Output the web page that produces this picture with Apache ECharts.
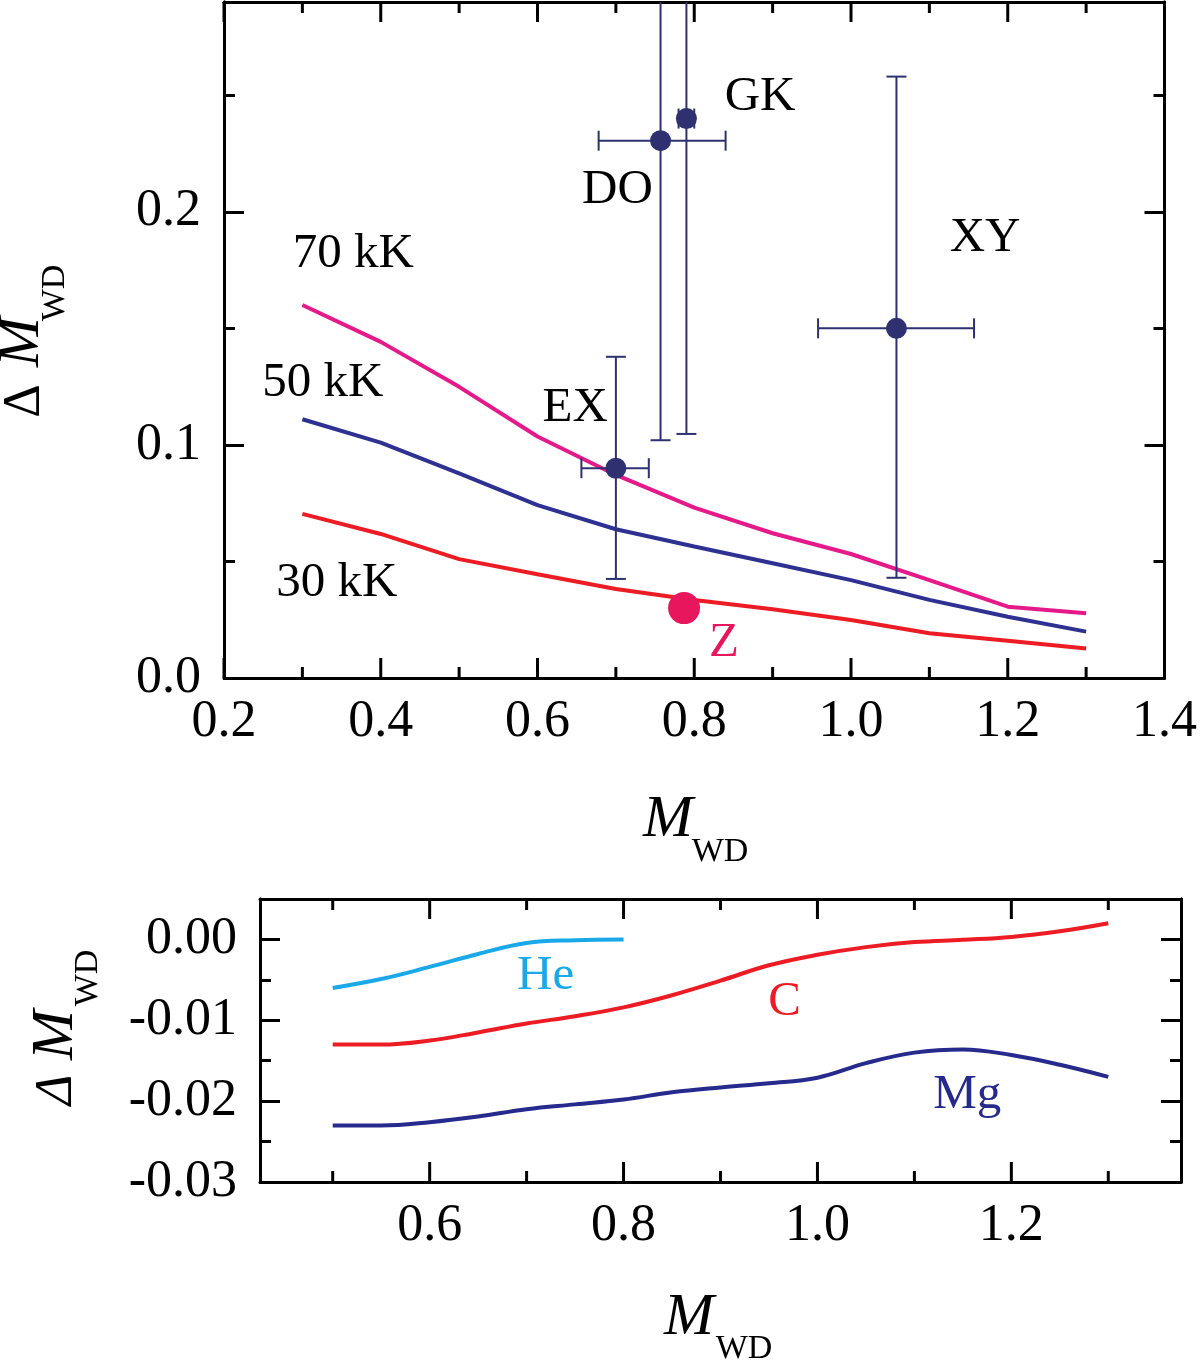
<!DOCTYPE html>
<html>
<head>
<meta charset="utf-8">
<script src="https://cdn.jsdelivr.net/npm/echarts@6/dist/echarts.min.js"></script>
<style>
  html, body { margin: 0; padding: 0; background: #fff; }
  #container { width: 1200px; height: 1362px; }
</style>
</head>
<body>
<div id="container"></div>
<script>
// ---- top panel data ----
var massGrid = [0.3, 0.4, 0.5, 0.6, 0.7, 0.8, 0.9, 1.0, 1.1, 1.2, 1.3];
var dm30 = [0.0704, 0.0618, 0.051, 0.0445, 0.0382, 0.0335, 0.0295, 0.0249, 0.0192, 0.016, 0.0127];
var dm50 = [0.111, 0.101, 0.0878, 0.0742, 0.0638, 0.0564, 0.0492, 0.042, 0.0335, 0.0263, 0.0199];
var dm70 = [0.160, 0.1442, 0.1249, 0.1036, 0.0871, 0.0731, 0.0621, 0.0532, 0.042, 0.0306, 0.0278];

// observed objects with error bars
var objNames = ['EX', 'DO', 'GK', 'XY'];
var objM     = [0.70, 0.757, 0.79, 1.058];
var objDM    = [0.090, 0.2305, 0.240, 0.150];
var objMLo   = [0.656, 0.678, 0.78, 0.958];
var objMHi   = [0.742, 0.84, 0.80, 1.157];
var objDMLo  = [0.0425, 0.102, 0.1047, 0.043];
var objDMHi  = [0.1378, 0.36, 0.38, 0.258];
var zObj = [0.787, 0.030];

// ---- bottom panel data ----
var massB = [0.5, 0.55, 0.6, 0.65, 0.7, 0.75, 0.8, 0.85, 0.9, 0.95, 1.0, 1.05, 1.1, 1.15, 1.2, 1.25, 1.3];
var heDM = [-0.006, -0.0049, -0.0034, -0.0018, -0.00045, -0.0001, 0];
var cDM  = [-0.013, -0.013, -0.0125, -0.0115, -0.0104, -0.0095, -0.0084, -0.0069, -0.0051, -0.0032, -0.0019, -0.00095, -0.00033, -0.00005, 0.0003, 0.001, 0.002];
var mgDM = [-0.023, -0.023, -0.0226, -0.0219, -0.021, -0.0204, -0.0198, -0.0189, -0.0183, -0.0178, -0.0171, -0.0153, -0.014, -0.0136, -0.0143, -0.0155, -0.017];

// tick values
var topXMajor = [0.2, 0.4, 0.6, 0.8, 1.0, 1.2, 1.4];
var topXMinor = [0.3, 0.5, 0.7, 0.9, 1.1, 1.3];
var topYMajor = [0, 0.1, 0.2];
var topYMinor = [0.05, 0.15, 0.25];
var botXMajor = [0.6, 0.8, 1.0, 1.2];
var botXMinor = [0.5, 0.7, 0.9, 1.1, 1.3];
var botYMajor = [-0.03, -0.02, -0.01, 0];
var botYMinor = [-0.025, -0.015, -0.005];

// axis ranges
var topX = [0.2, 1.4], topY = [0, 0.29];
var botX = [0.425, 1.375], botY = [-0.03, 0.005];

// text notes (data coordinates)
var topNotes = [
  ['70 kK', 0.365, 0.1818, '#000'],
  ['50 kK', 0.326, 0.1266, '#000'],
  ['30 kK', 0.344, 0.0408, '#000'],
  ['EX', 0.648, 0.1159, '#000'],
  ['DO', 0.702, 0.2094, '#000'],
  ['GK', 0.884, 0.2494, '#000'],
  ['XY', 1.171, 0.1886, '#000'],
  ['Z', 0.838, 0.0150, '#e8175d']
];
var botNotes = [
  ['He', 0.7196, -0.0046, '#1aa9e8'],
  ['C', 0.966, -0.0077, '#ed1c24'],
  ['Mg', 1.1546, -0.0193, '#262a8c']
];

var FONT = '"Liberation Serif", "Times New Roman", serif';
var NAVY = '#2e3070';

function pairs(xs, ys) {
  var out = [];
  for (var i = 0; i < ys.length; i++) out.push([xs[i], ys[i]]);
  return out;
}

var LINE = { show: true, onZero: false, lineStyle: { color: '#000', width: 3 } };

function xAxisDef(grid, pos, range, majors, fmt) {
  return {
    type: 'value', gridIndex: grid, position: pos, min: range[0], max: range[1],
    axisLine: LINE, splitLine: { show: false }, axisTick: { show: false },
    axisLabel: fmt ? {
      show: true, customValues: majors, formatter: fmt, margin: 18,
      fontFamily: FONT, fontSize: 52, color: '#000'
    } : { show: false }
  };
}

function yAxisPair(grid, pos, range, majors, minors, fmt) {
  var base = {
    type: 'value', gridIndex: grid, position: pos, min: range[0], max: range[1],
    axisLine: LINE, splitLine: { show: false }
  };
  var major = Object.assign({}, base, {
    axisTick: { show: true, inside: true, length: 20, customValues: majors, lineStyle: { color: '#000', width: 3 } },
    axisLabel: fmt ? {
      show: true, customValues: majors, formatter: fmt, margin: 23,
      fontFamily: FONT, fontSize: 52, color: '#000'
    } : { show: false }
  });
  var minor = Object.assign({}, base, {
    axisTick: { show: true, inside: true, length: 11, customValues: minors, lineStyle: { color: '#000', width: 3 } },
    axisLabel: { show: false }
  });
  return [major, minor];
}

function f1(v) { return Math.abs(v) < 1e-9 ? '0.0' : v.toFixed(1); }
function f2(v) { return Math.abs(v) < 1e-9 ? '0.00' : v.toFixed(2); }

var xAxes = [
  xAxisDef(0, 'bottom', topX, topXMajor, f1),
  xAxisDef(0, 'top', topX, topXMajor, null),
  xAxisDef(1, 'bottom', botX, botXMajor, f1),
  xAxisDef(1, 'top', botX, botXMajor, null)
];
var yAxes = [].concat(
  yAxisPair(0, 'left', topY, topYMajor, topYMinor, f1),
  yAxisPair(0, 'right', topY, topYMajor, topYMinor, null),
  yAxisPair(1, 'left', botY, botYMajor, botYMinor, f2),
  yAxisPair(1, 'right', botY, botYMajor, botYMinor, null)
);

// inward x ticks on bottom and top frame edges, drawn as thin rect symbols
function xTickSeries(xi, yi, majors, minors, yRange) {
  var out = [];
  function add(vals, len) {
    out.push({
      type: 'scatter', xAxisIndex: xi, yAxisIndex: yi, silent: true, z: 8, clip: false,
      symbol: 'rect', symbolSize: [3, len], symbolOffset: [0, -len / 2],
      itemStyle: { color: '#000', opacity: 1 },
      data: vals.map(function (v) { return [v, yRange[0]]; })
    });
    out.push({
      type: 'scatter', xAxisIndex: xi, yAxisIndex: yi, silent: true, z: 8, clip: false,
      symbol: 'rect', symbolSize: [3, len], symbolOffset: [0, len / 2],
      itemStyle: { color: '#000', opacity: 1 },
      data: vals.map(function (v) { return [v, yRange[1]]; })
    });
  }
  add(majors, 20);
  add(minors, 11);
  return out;
}

var errData = [];
for (var i = 0; i < objNames.length; i++) {
  errData.push([objM[i], objDM[i], objMLo[i], objMHi[i], objDMLo[i], objDMHi[i]]);
}

function renderErr(params, api) {
  var x = api.value(0), y = api.value(1);
  var pLo = api.coord([x, api.value(4)]), pHi = api.coord([x, api.value(5)]);
  var qLo = api.coord([api.value(2), y]), qHi = api.coord([api.value(3), y]);
  var c = 10;
  var segs = [
    [pLo, pHi],
    [[pLo[0] - c, pLo[1]], [pLo[0] + c, pLo[1]]],
    [[pHi[0] - c, pHi[1]], [pHi[0] + c, pHi[1]]],
    [qLo, qHi],
    [[qLo[0], qLo[1] - c], [qLo[0], qLo[1] + c]],
    [[qHi[0], qHi[1] - c], [qHi[0], qHi[1] + c]]
  ];
  return {
    type: 'group',
    children: segs.map(function (s) {
      return {
        type: 'line',
        shape: { x1: s[0][0], y1: s[0][1], x2: s[1][0], y2: s[1][1] },
        style: { stroke: NAVY, lineWidth: 2 }
      };
    })
  };
}

function noteSeries(notes, xi, yi) {
  return {
    type: 'custom', xAxisIndex: xi, yAxisIndex: yi, silent: true, z: 10, clip: false,
    data: notes.map(function (n, k) { return [n[1], n[2], k]; }),
    renderItem: function (params, api) {
      var n = notes[api.value(2)];
      var p = api.coord([api.value(0), api.value(1)]);
      return {
        type: 'text', x: p[0], y: p[1],
        style: {
          text: n[0], fill: n[3], font: '49px ' + FONT,
          align: 'center', verticalAlign: 'middle'
        }
      };
    }
  };
}

function lineSeries(name, data, color, xi, yi, smooth) {
  return {
    name: name, type: 'line', xAxisIndex: xi, yAxisIndex: yi,
    data: data, showSymbol: false, smooth: smooth,
    lineStyle: { color: color, width: 4 }, itemStyle: { color: color }
  };
}

function txt(x, y, s, size, italic) {
  return {
    type: 'text', x: x, y: y,
    style: {
      text: s, fill: '#000',
      font: (italic ? 'italic ' : '') + size + 'px ' + FONT,
      align: 'center', verticalAlign: 'middle',
      textAlign: 'center', textVerticalAlign: 'middle'
    }
  };
}

var titles = [
  // top y title
  { type: 'group', rotation: Math.PI / 2, x: 0, y: 0, children: [
    txt(-401, 25, 'Δ', 52, false),
    txt(-342, 22, 'M', 60, true),
    txt(-293, 55, 'WD', 34, false)
  ] },
  // top x title
  txt(668, 820, 'M', 60, true),
  txt(720, 852, 'WD', 34, false),
  // bottom y title
  { type: 'group', rotation: Math.PI / 2, x: 0, y: 0, children: [
    txt(-1090, 57, 'Δ', 52, true),
    txt(-1035, 56, 'M', 60, true),
    txt(-978, 88, 'WD', 34, false)
  ] },
  // bottom x title
  txt(689, 1318, 'M', 60, true),
  txt(744, 1349, 'WD', 34, false)
];

var dom = document.getElementById('container');
var myChart = echarts.init(dom, null, { renderer: 'canvas' });

var option = {
  animation: false,
  backgroundColor: '#fff',
  grid: [
    { left: 224, right: 32, top: 2, height: 676, show: false },
    { left: 260, right: 19, top: 899, height: 283, show: false }
  ],
  xAxis: xAxes,
  yAxis: yAxes,
  graphic: titles,
  series: [
    lineSeries('30 kK', pairs(massGrid, dm30), '#ed1c24', 0, 0, false),
    lineSeries('50 kK', pairs(massGrid, dm50), '#2e3192', 0, 0, false),
    lineSeries('70 kK', pairs(massGrid, dm70), '#e5198a', 0, 0, false),
    {
      type: 'custom', xAxisIndex: 0, yAxisIndex: 0, clip: true, z: 4,
      renderItem: renderErr, data: errData
    },
    {
      type: 'scatter', xAxisIndex: 0, yAxisIndex: 0, z: 5, symbolSize: 21,
      itemStyle: { color: NAVY, opacity: 1 },
      data: pairs(objM, objDM)
    },
    {
      type: 'scatter', xAxisIndex: 0, yAxisIndex: 0, z: 5, symbolSize: 32,
      itemStyle: { color: '#e8175d', opacity: 1 },
      data: [zObj]
    },
    noteSeries(topNotes, 0, 0),
    lineSeries('He', pairs(massB, heDM), '#1aa9e8', 2, 4, 0.4),
    lineSeries('C', pairs(massB, cDM), '#ed1c24', 2, 4, 0.4),
    lineSeries('Mg', pairs(massB, mgDM), '#262a8c', 2, 4, 0.4),
    noteSeries(botNotes, 2, 4)
  ].concat(
    xTickSeries(0, 0, topXMajor, topXMinor, topY),
    xTickSeries(2, 4, botXMajor, botXMinor, botY)
  )
};

myChart.setOption(option);
window.addEventListener('resize', myChart.resize);
</script>
</body>
</html>
